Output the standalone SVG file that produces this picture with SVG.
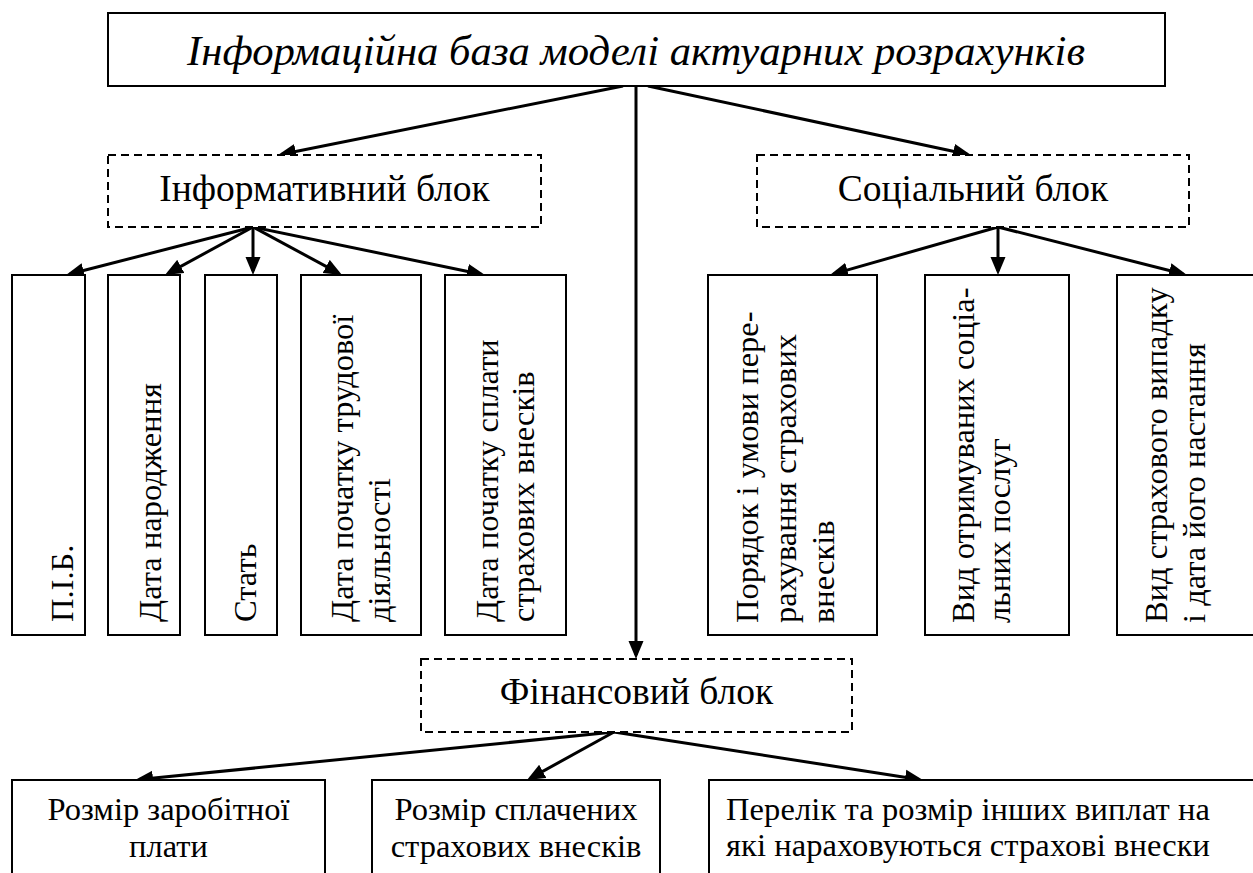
<svg xmlns="http://www.w3.org/2000/svg" width="1253" height="873" viewBox="0 0 1253 873">
<style>
.box{fill:#fff;stroke:#000;stroke-width:2}
.dash{fill:#fff;stroke:#000;stroke-width:2;stroke-dasharray:8 5}
.ar{stroke:#000;stroke-width:3;fill:none;marker-end:url(#ah)}
</style>
<defs>
<marker id="ah" viewBox="0 0 18 16" refX="14" refY="8" markerWidth="18" markerHeight="16" orient="auto" markerUnits="userSpaceOnUse">
<path d="M0,0.5 L18,8 L0,15.5 z" fill="#000"/>
</marker>
</defs>
<rect width="1253" height="873" fill="#fff"/>

<g id="connectors">
<line class="ar" x1="623" y1="86" x2="281.9" y2="154.2"/>
<line class="ar" x1="648" y1="86" x2="967.1" y2="154.2"/>
<line class="ar" x1="636" y1="86" x2="636" y2="655"/>
<line class="ar" x1="253" y1="227" x2="69.9" y2="274"/>
<line class="ar" x1="253" y1="227" x2="168.5" y2="273.1"/>
<line class="ar" x1="253" y1="227" x2="253" y2="271"/>
<line class="ar" x1="253" y1="227" x2="338.5" y2="273.1"/>
<line class="ar" x1="253" y1="227" x2="481.1" y2="274.2"/>
<line class="ar" x1="998" y1="227" x2="833.8" y2="273.9"/>
<line class="ar" x1="998" y1="227" x2="998" y2="271"/>
<line class="ar" x1="998" y1="227" x2="1183.1" y2="274"/>
<line class="ar" x1="614" y1="732" x2="139" y2="779.6"/>
<line class="ar" x1="614" y1="732" x2="530.5" y2="778.1"/>
<line class="ar" x1="614" y1="732" x2="919" y2="779.4"/>
</g>

<g font-family="Liberation Serif" font-size="32.5" fill="#000">
<g id="root">
<rect class="box" x="108" y="13" width="1057" height="73"/>
<text x="636" y="65" text-anchor="middle" font-size="42.7" font-style="italic">Інформаційна база моделі актуарних розрахунків</text>
</g>

<g id="info-block">
<rect class="dash" x="108" y="155" width="433" height="72"/>
<text x="324.5" y="201" text-anchor="middle" font-size="37.5">Інформативний блок</text>
</g>

<g id="social-block">
<rect class="dash" x="757" y="155" width="432" height="72"/>
<text x="973" y="201" text-anchor="middle" font-size="37.5">Соціальний блок</text>
</g>

<g id="fin-block">
<rect class="dash" x="421" y="659" width="431" height="73"/>
<text x="636.5" y="704" text-anchor="middle" font-size="37.5">Фінансовий блок</text>
</g>

<g id="pib">
<rect class="box" x="12" y="275" width="73" height="360"/>
<text transform="translate(73,622) rotate(-90)">П.І.Б.</text>
</g>
<g id="birth">
<rect class="box" x="108" y="275" width="72" height="360"/>
<text transform="translate(161,622) rotate(-90)">Дата народження</text>
</g>
<g id="sex">
<rect class="box" x="205" y="275" width="72" height="360"/>
<text transform="translate(256,622) rotate(-90)">Стать</text>
</g>
<g id="work-start">
<rect class="box" x="301" y="275" width="120" height="360"/>
<text transform="translate(353,622) rotate(-90)">Дата початку трудової<tspan x="0" dy="37">діяльності</tspan></text>
</g>
<g id="pay-start">
<rect class="box" x="445" y="275" width="121" height="360"/>
<text transform="translate(498,622) rotate(-90)">Дата початку сплати<tspan x="0" dy="36">страхових внесків</tspan></text>
</g>

<g id="order">
<rect class="box" x="708" y="275" width="169" height="360"/>
<text transform="translate(758,623) rotate(-90)">Порядок і умови пере-<tspan x="0" dy="38">рахування страхових</tspan><tspan x="0" dy="38">внесків</tspan></text>
</g>
<g id="services">
<rect class="box" x="925" y="275" width="144" height="360"/>
<text transform="translate(974,623) rotate(-90)">Вид отримуваних соціа-<tspan x="0" dy="36">льних послуг</tspan></text>
</g>
<g id="case">
<rect class="box" x="1117" y="275" width="200" height="360"/>
<text transform="translate(1167,623) rotate(-90)">Вид страхового випадку<tspan x="0" dy="38">і дата його настання</tspan></text>
</g>

<g id="salary">
<rect class="box" x="12" y="780" width="313" height="120"/>
<text x="168.5" y="820" text-anchor="middle">Розмір заробітної</text>
<text x="168.5" y="857" text-anchor="middle">плати</text>
</g>
<g id="paid">
<rect class="box" x="372" y="780" width="288" height="120"/>
<text x="516" y="820" text-anchor="middle">Розмір сплачених</text>
<text x="516" y="857" text-anchor="middle">страхових внесків</text>
</g>
<g id="other">
<rect class="box" x="709" y="780" width="600" height="120"/>
<text x="726" y="820" textLength="484" lengthAdjust="spacing">Перелік та розмір інших виплат на</text>
<text x="726" y="856" textLength="484" lengthAdjust="spacing">які нараховуються страхові внески</text>
</g>
</g>
</svg>
